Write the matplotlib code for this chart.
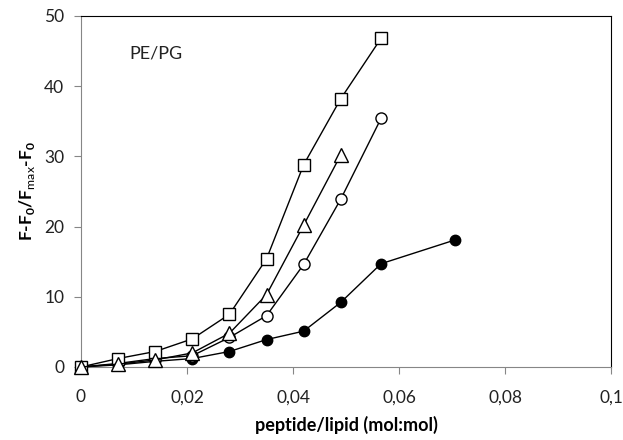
import matplotlib
matplotlib.use('Agg')
import matplotlib.pyplot as plt
from matplotlib.ticker import FuncFormatter

plt.rcParams['font.family'] = ['Lato', 'DejaVu Sans']
plt.rcParams['mathtext.fontset'] = 'custom'
plt.rcParams['mathtext.rm'] = 'Lato'
plt.rcParams['mathtext.bf'] = 'Lato:bold'

# peptide/lipid ratios
x = [0, 0.007, 0.014, 0.021, 0.028, 0.035, 0.042, 0.049, 0.0566, 0.0706]

squares = [0, 1.2, 2.2, 4.0, 7.5, 15.4, 28.8, 38.2, 46.8]
triangles = [0, 0.4, 1.0, 2.0, 4.8, 10.3, 20.2, 30.2]
circles = [0, 0.5, 1.2, 1.6, 4.2, 7.3, 14.6, 23.9, 35.4]
filled = [0, 0.3, 0.8, 1.2, 2.2, 3.9, 5.1, 9.2, 14.7, 18.1]

fig = plt.figure(figsize=(6.23, 4.4), dpi=100)
ax = fig.add_axes([0.130, 0.166, 0.851, 0.798])

ax.plot(x[:len(filled)], filled, '-o', color='black', lw=1, ms=7.5,
        mfc='black', mec='black', clip_on=False, zorder=3)
ax.plot(x[:len(circles)], circles, '-o', color='black', lw=1, ms=8,
        mfc='white', mec='black', clip_on=False, zorder=3)
ax.plot(x[:len(squares)], squares, '-s', color='black', lw=1, ms=9,
        mfc='white', mec='black', clip_on=False, zorder=3)
ax.plot(x[:len(triangles)], triangles, '-^', color='black', lw=1, ms=10,
        mfc='white', mec='black', clip_on=False, zorder=3)

ax.set_xlim(0, 0.1)
ax.set_ylim(0, 50)
ax.set_xticks([0, 0.02, 0.04, 0.06, 0.08, 0.1])
ax.set_yticks([0, 10, 20, 30, 40, 50])
ax.xaxis.set_major_formatter(FuncFormatter(lambda v, p: ('%g' % round(v, 3)).replace('.', ',')))

for s in ['left', 'bottom']:
    ax.spines[s].set_color('#868686')
for s in ['top', 'right']:
    ax.spines[s].set_color('black')
ax.tick_params(axis='both', direction='out', length=5, color='#868686',
               labelsize=12.5, labelcolor='#222222', pad=7)
ax.tick_params(axis='x', pad=11)

ax.text(0.0091, 44.6, 'PE/PG', fontsize=13, va='center', ha='left', color='#222222')

ax.set_xlabel('peptide/lipid (mol:mol)', fontsize=13, fontweight='bold', labelpad=8)
ax.set_ylabel(r'F-F$_\mathbf{0}$/F$_\mathrm{max}$-F$_\mathbf{0}$', fontsize=12.5,
              fontweight='bold', labelpad=5)

fig.savefig('out.png', dpi=100)
